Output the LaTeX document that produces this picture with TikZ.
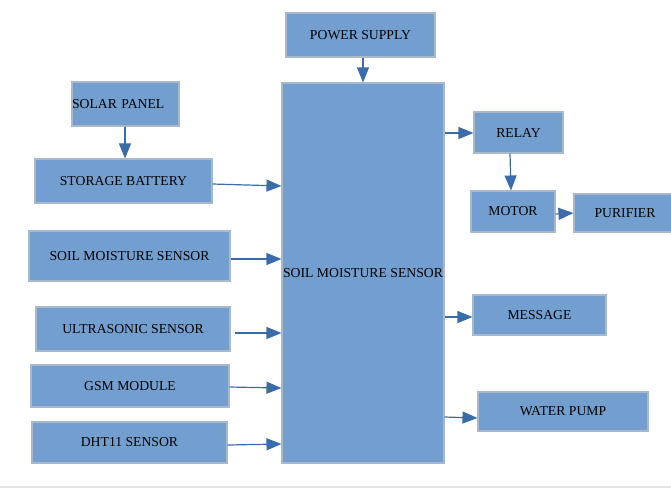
\documentclass[tikz,border=0pt]{standalone}
\usepackage{fontspec}
\setmainfont{Liberation Serif}
\usetikzlibrary{arrows.meta}
\definecolor{boxfill}{HTML}{729FCF}
\definecolor{boxline}{HTML}{A9B9CB}
\definecolor{arrline}{HTML}{3A6BAA}
\definecolor{bottomrule}{HTML}{E4E4E4}
\tikzset{
  blk/.style={draw=boxline, fill=boxfill, line width=1.1pt, inner sep=0pt,
    font=\fontsize{13.7}{16}\selectfont, text=black},
  arr/.style={draw=arrline, line width=1.2pt,
    -{Triangle[length=15pt,width=12pt]}},
}
\begin{document}
\begin{tikzpicture}[x=1pt,y=-1pt]
\clip (0,0) rectangle (671,491);
\useasboundingbox (0,0) rectangle (671,491);
\draw[draw=bottomrule, line width=2pt] (0,487) -- (671,487);
% central block
\node[blk, minimum width=162pt, minimum height=380pt] (main) at (363,273) {SOIL MOISTURE SENSOR};
% top
\node[blk, minimum width=149pt, minimum height=44pt] (pwr) at (360.5,35) {POWER SUPPLY};
% left column
\node[blk, text width=107pt, align=left, minimum height=44pt] (sol) at (125.5,104) {SOLAR PANEL};
\node[blk, minimum width=177pt, minimum height=44pt] (bat) at (123.5,181) {STORAGE BATTERY};
\node[blk, minimum width=201pt, minimum height=50pt] (soil) at (129.5,256) {SOIL MOISTURE SENSOR};
\node[blk, minimum width=194pt, minimum height=44pt] (ultra) at (133,329) {ULTRASONIC SENSOR};
\node[blk, minimum width=198pt, minimum height=42pt] (gsm) at (130,386) {GSM MODULE};
\node[blk, minimum width=195pt, minimum height=41pt] (dht) at (129.5,442.5) {DHT11 SENSOR};
% right side
\node[blk, minimum width=89pt, minimum height=41pt] (relay) at (518.5,132.5) {RELAY};
\node[blk, minimum width=84pt, minimum height=41pt] (motor) at (513,211.5) {MOTOR};
\node[blk, minimum width=102pt, minimum height=38pt] (puri) at (625,213) {PURIFIER};
\node[blk, minimum width=133pt, minimum height=40pt] (msg) at (539.5,315) {MESSAGE};
\node[blk, minimum width=170pt, minimum height=39pt] (pump) at (563,411.5) {WATER PUMP};
% connectors
\draw[arr] (363,0 |- pwr.south) -- (363,0 |- main.north);
\draw[arr] (125,0 |- sol.south) -- (125,0 |- bat.north);
\draw[arr] (bat.east |- 0,184) -- (main.west |- 0,186);
\draw[arr] (soil.east |- 0,259) -- (main.west |- 0,259);
\draw[arr] ([xshift=4pt]ultra.east |- 0,333) -- (main.west |- 0,333);
\draw[arr] (gsm.east |- 0,387) -- (main.west |- 0,388);
\draw[arr] (dht.east |- 0,445) -- (main.west |- 0,444);
\draw[arr] (main.east |- 0,133) -- (relay.west |- 0,133);
\draw[arr] (510,0 |- relay.south) -- (511,0 |- motor.north);
\draw[arr] (motor.east |- 0,214) -- (puri.west |- 0,213);
\draw[arr] (main.east |- 0,317) -- (msg.west |- 0,317);
\draw[arr] (main.east |- 0,417) -- (pump.west |- 0,418);
\end{tikzpicture}
\end{document}
